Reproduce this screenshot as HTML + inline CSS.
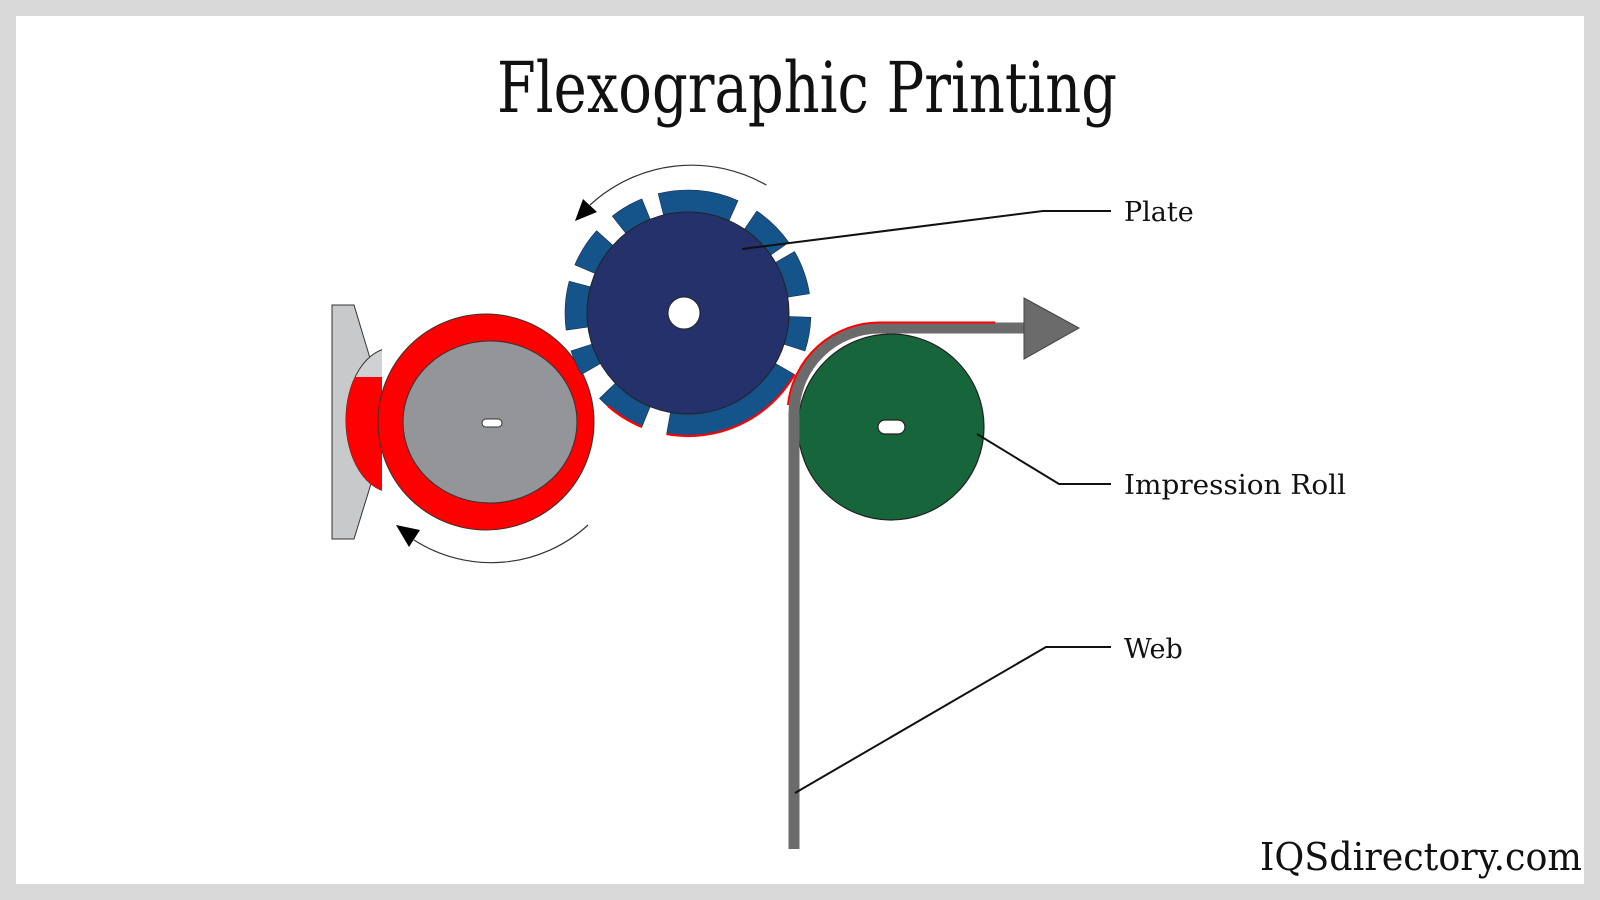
<!DOCTYPE html>
<html><head><meta charset="utf-8"><style>
html,body{margin:0;padding:0;background:#d9d9d9;}
svg{display:block;}
</style></head><body>
<svg width="1600" height="900" viewBox="0 0 1600 900" xmlns="http://www.w3.org/2000/svg">
<defs>
<clipPath id="inkclip"><rect x="330" y="300" width="52" height="240"/></clipPath>
<clipPath id="lowclip"><rect x="330" y="377" width="60" height="200"/></clipPath>
</defs>
<rect x="0" y="0" width="1600" height="900" fill="#d9d9d9"/>
<rect x="16" y="16" width="1568" height="868" fill="#ffffff"/>
<text x="807" y="112" text-anchor="middle" font-family="'DejaVu Serif','Liberation Serif',serif" font-size="70" textLength="620" lengthAdjust="spacingAndGlyphs" fill="#111">Flexographic Printing</text>

<!-- blade -->
<path d="M332,305 L354,305 L382,398 L382,448 L354,539 L332,539 Z" fill="#c8c9cb" stroke="#333" stroke-width="1"/>
<g clip-path="url(#inkclip)">
<ellipse cx="392" cy="420" rx="46" ry="72" fill="#d0d1d3" stroke="#333" stroke-width="1"/>
<ellipse cx="392" cy="420" rx="46" ry="72" fill="#ff0000" clip-path="url(#lowclip)"/>
</g>

<!-- ink roll -->
<circle cx="486" cy="422" r="108" fill="#ff0000" stroke="#333" stroke-width="1"/>
<ellipse cx="490" cy="422" rx="87" ry="81" fill="#939598" stroke="#333" stroke-width="1"/>
<rect x="482" y="419" width="20" height="8" rx="4" fill="#fff" stroke="#333" stroke-width="1"/>

<!-- plate segments -->
<g fill="#14548a" stroke="#1b2a4a" stroke-width="0.6">
<path d="M665.0,220.8 L658.2,193.7 A123 123 0 0 1 738.0,200.6 L726.6,226.2 Z"/>
<path d="M741.1,234.2 L756.8,211.0 A123 123 0 0 1 788.8,242.4 L765.8,258.5 Z"/>
<path d="M770.3,265.5 L794.5,251.5 A123 123 0 0 1 809.5,293.8 L781.8,298.1 Z"/>
<path d="M782.9,316.3 L810.9,317.3 A123 123 0 0 1 805.0,351.0 L778.4,342.4 Z"/>
<path d="M770.3,360.5 L794.5,374.5 A123 123 0 0 1 666.6,434.1 L671.5,406.6 Z"/>
<path d="M652.4,401.1 L641.9,427.0 A123 123 0 0 1 599.5,398.4 L619.7,379.0 Z"/>
<path d="M605.7,360.5 L581.5,374.5 A123 123 0 0 1 571.0,351.0 L597.6,342.4 Z"/>
<path d="M593.9,326.2 L566.2,330.1 A123 123 0 0 1 569.2,281.2 L596.2,288.4 Z"/>
<path d="M600.6,275.9 L574.8,264.9 A123 123 0 0 1 596.6,230.7 L617.4,249.4 Z"/>
<path d="M629.5,238.1 L612.3,216.1 A123 123 0 0 1 641.9,198.9 L652.4,224.9 Z"/>
</g>
<g fill="none" stroke="#ff0000" stroke-width="2.2">
<path d="M794.5,374.5 A123 123 0 0 1 666.6,434.1"/>
<path d="M641.9,427.0 A123 123 0 0 1 608,406"/>
</g>
<circle cx="688" cy="313" r="101" fill="#25316b" stroke="#222" stroke-width="1"/>
<circle cx="684" cy="313" r="16" fill="#fff" stroke="#222" stroke-width="1"/>

<!-- impression roll -->
<circle cx="891" cy="427" r="93" fill="#17653a" stroke="#222" stroke-width="1.2"/>
<rect x="878" y="420" width="27" height="14" rx="7" fill="#fff" stroke="#222" stroke-width="1.2"/>

<!-- web -->
<path d="M794,849 L794,414 A86 86 0 0 1 880,328 L1026,328" fill="none" stroke="#6b6b6b" stroke-width="11"/>
<path d="M788,405 A92 92 0 0 1 880,322.5 L995,322.5" fill="none" stroke="#ff0000" stroke-width="2"/>
<path d="M1024,298 L1079,328 L1024,359 Z" fill="#6b6b6b" stroke="#444" stroke-width="1"/>

<!-- rotation arrows -->
<path d="M766.4,185.1 A150 150 0 0 0 590,205" fill="none" stroke="#333" stroke-width="1.2"/>
<path d="M575,221 L583,199 L597,212 Z" fill="#000"/>
<path d="M588,525 A143 143 0 0 1 414,540" fill="none" stroke="#333" stroke-width="1.2"/>
<path d="M396,525 L420,530 L409,547 Z" fill="#000"/>

<!-- leader lines -->
<g fill="none" stroke="#111" stroke-width="2">
<path d="M742,249 L1043,211 L1111,211"/>
<path d="M977,434 L1059,484 L1111,484"/>
<path d="M795,793 L1046,647 L1111,647"/>
</g>
<g font-family="'DejaVu Serif','Liberation Serif',serif" font-size="27" fill="#111">
<text x="1124" y="221">Plate</text>
<text x="1124" y="494" textLength="222" lengthAdjust="spacingAndGlyphs">Impression Roll</text>
<text x="1124" y="658">Web</text>
</g>
<text x="1582" y="870" text-anchor="end" font-family="'DejaVu Serif','Liberation Serif',serif" font-size="38" textLength="322" lengthAdjust="spacingAndGlyphs" fill="#111">IQSdirectory.com</text>
</svg>
</body></html>
